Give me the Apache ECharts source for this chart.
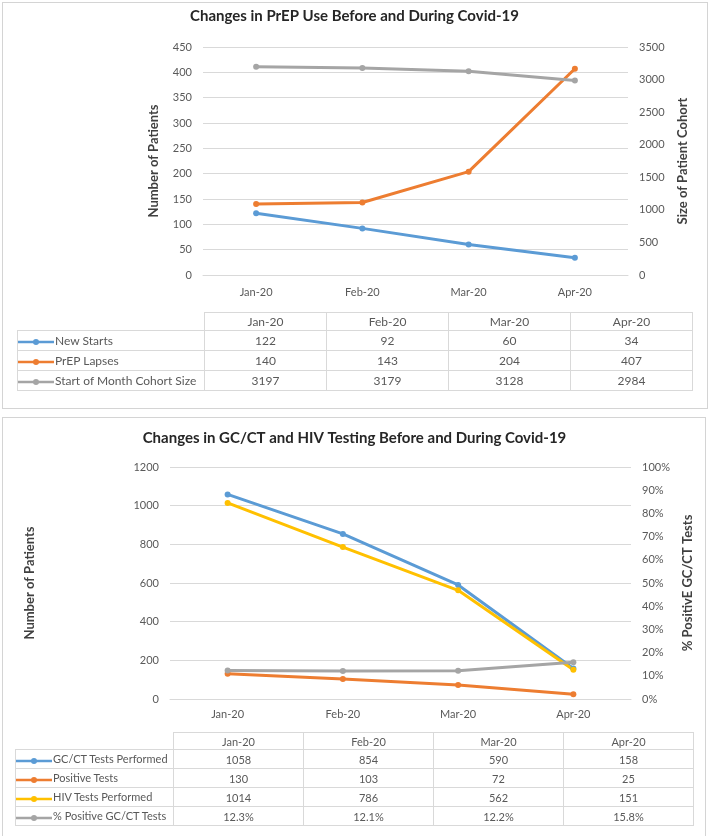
<!DOCTYPE html>
<html>
<head>
<meta charset="utf-8">
<script src="https://cdn.jsdelivr.net/npm/echarts@6/dist/echarts.min.js"></script>
<style>
  html, body { margin: 0; padding: 0; background: #fff; }
  #wrap { position: relative; width: 709px; height: 836px; overflow: hidden; font-family: Lato, 'Open Sans', sans-serif; }
  .panel { position: absolute; border: 1px solid #d4d4d4; }
  #chart { position: absolute; left: 0; top: 0; width: 709px; height: 836px; }
  table.dt { position: absolute; border-collapse: collapse; table-layout: fixed; color: #595959; }
  table.dt td { border: 1px solid #d9d9d9; text-align: center; padding: 0; white-space: nowrap; }
  table.dt td.lab { text-align: left; }
  table.dt td.blank { border-top: none; border-left: none; }
  table.dt svg { vertical-align: middle; margin-right: 1px; }
</style>
</head>
<body>
<div id="wrap">
  <div class="panel" style="left:2px;top:2px;width:704px;height:405px;"></div>
  <div class="panel" style="left:2px;top:417px;width:702px;height:430px;"></div>
  <div id="chart"></div>
  <table class="dt" id="tab1" style="font-size:12px;"></table>
  <table class="dt" id="tab2" style="font-size:11px;"></table>
</div>
<script>
// categories
var months = ['Jan-20', 'Feb-20', 'Mar-20', 'Apr-20'];

// top chart: PrEP use
var newStarts = [122, 92, 60, 34];
var prepLapses = [140, 143, 204, 407];
var cohortSize = [3197, 3179, 3128, 2984];

// bottom chart: GC/CT and HIV testing
var gcctTests = [1058, 854, 590, 158];
var positiveTests = [130, 103, 72, 25];
var hivTests = [1014, 786, 562, 151];
var pctPositive = [12.3, 12.1, 12.2, 15.8];

var blue = '#5b9bd5', orange = '#ed7d31', gray = '#a5a5a5', yellow = '#ffc000';
var txt = '#595959', grid = '#d9d9d9';
var font = 'Lato, "Open Sans", sans-serif';

function catAxis(gi, margin) {
  return {
    type: 'category', gridIndex: gi, data: months,
    axisLine: { lineStyle: { color: grid } },
    axisTick: { show: false },
    axisLabel: { color: txt, fontSize: 11, fontFamily: font, margin: margin }
  };
}
function valAxis(gi, pos, min, max, step, name, gap, suffix, split) {
  return {
    type: 'value', gridIndex: gi, position: pos, min: min, max: max, interval: step,
    name: name, nameLocation: 'middle', nameRotate: 90, nameGap: gap,
    nameTextStyle: { color: '#404040', fontSize: 13, fontWeight: 'bold', fontFamily: font },
    axisLine: { show: false }, axisTick: { show: false },
    axisLabel: { color: txt, fontSize: 11, fontFamily: font, margin: 11,
      formatter: function (v) { return String(v) + (suffix || ''); } },
    splitLine: { show: split, lineStyle: { color: grid } }
  };
}
function line(name, data, color, xi, yi) {
  return {
    name: name, type: 'line', data: data, xAxisIndex: xi, yAxisIndex: yi,
    symbol: 'circle', symbolSize: 6,
    lineStyle: { color: color, width: 3 },
    itemStyle: { color: color },
    animation: false
  };
}

var option = {
  title: [
    { text: 'Changes in PrEP Use Before and During Covid-19', left: 'center', top: 9, padding: 0,
      textStyle: { fontSize: 15, fontWeight: 'bold', color: '#262626', fontFamily: font } },
    { text: 'Changes in GC/CT and HIV Testing Before and During Covid-19', left: 'center', top: 431, padding: 0,
      textStyle: { fontSize: 15, fontWeight: 'bold', color: '#262626', fontFamily: font } }
  ],
  grid: [
    { left: 203, right: 81, top: 47, height: 228 },
    { left: 170, right: 78, top: 467, height: 232 }
  ],
  xAxis: [catAxis(0, 12), catAxis(1, 10)],
  yAxis: [
    valAxis(0, 'left', 0, 450, 50, 'Number of Patients', 43, '', true),
    valAxis(0, 'right', 0, 3500, 500, 'Size of Patient Cohort', 48, '', false),
    valAxis(1, 'left', 0, 1200, 200, 'Number of Patients', 134, '', true),
    valAxis(1, 'right', 0, 100, 10, '% PositivE GC/CT Tests', 46, '%', false)
  ],
  series: [
    line('New Starts', newStarts, blue, 0, 0),
    line('PrEP Lapses', prepLapses, orange, 0, 0),
    line('Start of Month Cohort Size', cohortSize, gray, 0, 1),
    line('GC/CT Tests Performed', gcctTests, blue, 1, 2),
    line('Positive Tests', positiveTests, orange, 1, 2),
    line('HIV Tests Performed', hivTests, yellow, 1, 2),
    line('% Positive GC/CT Tests', pctPositive, gray, 1, 3)
  ]
};

var myChart = echarts.init(document.getElementById('chart'));
myChart.setOption(option);

// data tables under each chart
function key(color) {
  return '<svg width="36" height="10"><line x1="0" y1="5" x2="36" y2="5" stroke="' + color +
    '" stroke-width="2.5"/><circle cx="18" cy="5" r="3" fill="' + color + '"/></svg>';
}
function buildTable(id, left, top, labW, colW, headH, rowH, rows) {
  var t = document.getElementById(id);
  t.style.left = left + 'px';
  t.style.top = top + 'px';
  var h = '<colgroup><col style="width:' + labW + 'px">';
  months.forEach(function () { h += '<col style="width:' + colW + 'px">'; });
  h += '</colgroup><tr style="height:' + headH + 'px"><td class="blank"></td>';
  months.forEach(function (m) { h += '<td>' + m + '</td>'; });
  h += '</tr>';
  rows.forEach(function (r) {
    h += '<tr style="height:' + rowH + 'px"><td class="lab">' + key(r[1]) + r[0] + '</td>';
    r[2].forEach(function (v) { h += '<td>' + (r[3] ? v.toFixed(1) + '%' : v) + '</td>'; });
    h += '</tr>';
  });
  t.innerHTML = h;
}
buildTable('tab1', 17, 312, 187, 122, 18, 20, [
  ['New Starts', blue, newStarts],
  ['PrEP Lapses', orange, prepLapses],
  ['Start of Month Cohort Size', gray, cohortSize]
]);
buildTable('tab2', 15, 732, 158, 130, 17, 19, [
  ['GC/CT Tests Performed', blue, gcctTests],
  ['Positive Tests', orange, positiveTests],
  ['HIV Tests Performed', yellow, hivTests],
  ['% Positive GC/CT Tests', gray, pctPositive, true]
]);
</script>
</body>
</html>
